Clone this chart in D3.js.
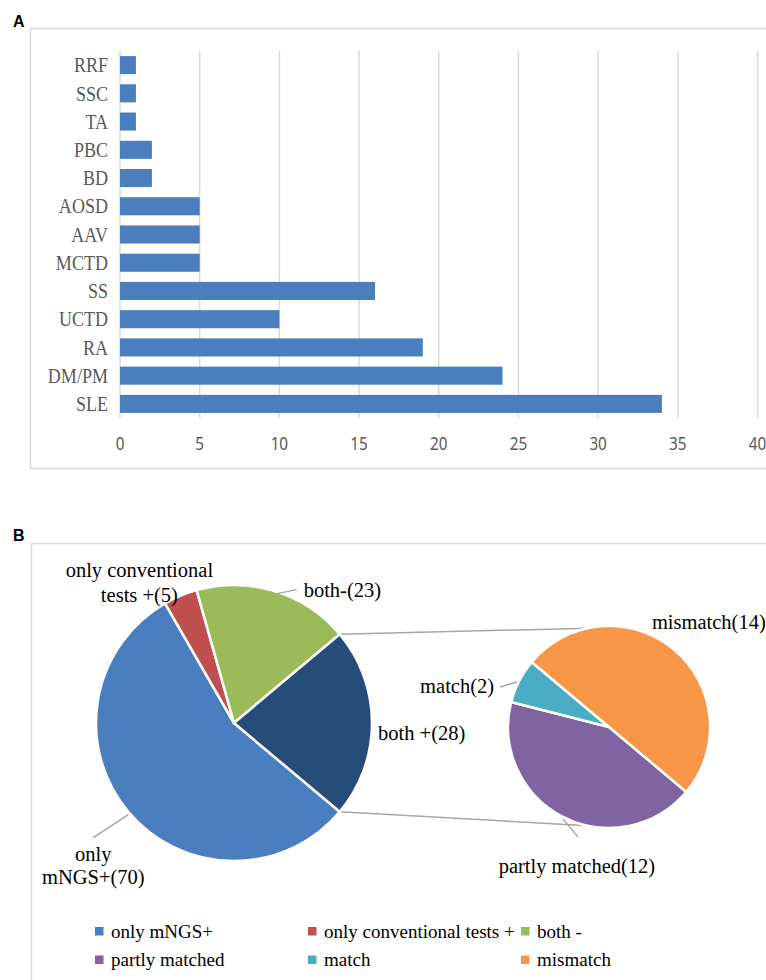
<!DOCTYPE html>
<html>
<head>
<meta charset="utf-8">
<script src="https://cdn.jsdelivr.net/npm/d3@7"></script>
<style>
  html, body { margin: 0; padding: 0; background: #fff; }
  svg { display: block; }
</style>
</head>
<body>
<svg id="chart" width="766" height="980"></svg>
<script>
// Panel A: number of patients per rheumatic disease
const categories = ["RRF", "SSC", "TA", "PBC", "BD", "AOSD", "AAV", "MCTD", "SS", "UCTD", "RA", "DM/PM", "SLE"];
const counts = [1, 1, 1, 2, 2, 5, 5, 5, 16, 10, 19, 24, 34];
const xTicks = [0, 5, 10, 15, 20, 25, 30, 35, 40];

// Panel B: mNGS vs conventional tests, and the breakdown of "both +"
const mainNames = ["only mNGS+", "only conventional tests +", "both -", "both +"];
const mainCounts = [70, 5, 23, 28];
const mainPieText = [["only", "mNGS+"], ["only conventional", "tests +"], ["both-"], ["both +"]];
const mainColors = ["#4a7ebf", "#c0504d", "#9bbb59", "#264c79"];

const subNames = ["partly matched", "match", "mismatch"];
const subCounts = [12, 2, 14];
const subPieText = [["partly matched"], ["match"], ["mismatch"]];
const subColors = ["#8064a2", "#4bacc6", "#f79646"];

const legendOrder = ["only mNGS+", "only conventional tests +", "both -", "partly matched", "match", "mismatch"];

const svg = d3.select("#chart");
const serif = "'Liberation Serif', 'Times New Roman', serif";
const sans = "'Noto Sans', 'DejaVu Sans', sans-serif";
const rad = deg => deg * Math.PI / 180;

/* ---------------- Panel A ---------------- */
svg.append("text").attr("x", 13).attr("y", 27)
  .attr("font-family", "'Liberation Sans', Arial, sans-serif").attr("font-weight", "bold")
  .attr("font-size", 16).attr("fill", "#000").text("A");

svg.append("rect").attr("x", 30.5).attr("y", 28.5).attr("width", 800).attr("height", 440)
  .attr("fill", "none").attr("stroke", "#d9d9d9").attr("stroke-width", 1.5);

const x = d3.scaleLinear().domain([0, 40]).range([120, 757.5]);
const y = d3.scaleBand().domain(categories).range([51, 418]).paddingInner(0.36).paddingOuter(0.18);

const gA = svg.append("g");
gA.selectAll("line.grid").data(xTicks).join("line")
  .attr("class", "grid")
  .attr("x1", d => x(d)).attr("x2", d => x(d))
  .attr("y1", 51).attr("y2", 418)
  .attr("stroke", "#d9d9d9").attr("stroke-width", 1.5);

gA.selectAll("rect.bar").data(categories).join("rect")
  .attr("class", "bar")
  .attr("x", x(0))
  .attr("y", d => y(d))
  .attr("width", (d, i) => x(counts[i]) - x(0))
  .attr("height", y.bandwidth())
  .attr("fill", "#4a7ebf");

gA.selectAll("text.cat").data(categories).join("text")
  .attr("class", "cat")
  .attr("transform", d => `translate(108,${y(d) + y.bandwidth() / 2}) scale(0.95,1.08)`)
  .attr("dy", "0.35em")
  .attr("text-anchor", "end")
  .attr("font-family", serif).attr("font-size", 19).attr("fill", "#595959")
  .text(d => d);

gA.selectAll("text.tick").data(xTicks).join("text")
  .attr("class", "tick")
  .attr("transform", d => `translate(${x(d)},450) scale(0.85,1)`)
  .attr("text-anchor", "middle")
  .attr("font-family", sans).attr("font-size", 18).attr("fill", "#595959")
  .text(d => d);

/* ---------------- Panel B ---------------- */
svg.append("text").attr("x", 13).attr("y", 541)
  .attr("font-family", "'Liberation Sans', Arial, sans-serif").attr("font-weight", "bold")
  .attr("font-size", 16).attr("fill", "#000").text("B");

svg.append("rect").attr("x", 31.5).attr("y", 543.5).attr("width", 800).attr("height", 500)
  .attr("fill", "none").attr("stroke", "#d9d9d9").attr("stroke-width", 1.5);

const start = rad(130);
const pie = d3.pie().sort(null).value(d => d).startAngle(start).endAngle(start + 2 * Math.PI);

const main = { cx: 234, cy: 723, r: 138 };
const sub = { cx: 609, cy: 727, r: 101 };

const edge = (p, a, rr) => [p.cx + (rr || p.r) * Math.sin(a), p.cy - (rr || p.r) * Math.cos(a)];

const mainArcs = pie(mainCounts);
const subArcs = pie(subCounts);

// connector lines between the "both +" slice and the secondary pie
const lineColor = "#a6a6a6";
const connectors = [
  [edge(main, mainArcs[3].startAngle), edge(sub, rad(-12))],
  [edge(main, mainArcs[3].endAngle), edge(sub, rad(192))]
];
svg.append("g").selectAll("line").data(connectors).join("line")
  .attr("x1", d => d[0][0]).attr("y1", d => d[0][1])
  .attr("x2", d => d[1][0]).attr("y2", d => d[1][1])
  .attr("stroke", lineColor).attr("stroke-width", 1.5);

function drawPie(p, arcs, colors) {
  const arc = d3.arc().innerRadius(0).outerRadius(p.r);
  svg.append("g").attr("transform", `translate(${p.cx},${p.cy})`)
    .selectAll("path").data(arcs).join("path")
    .attr("d", arc)
    .attr("fill", (d, i) => colors[i])
    .attr("stroke", "#fff").attr("stroke-width", 2.5).attr("stroke-linejoin", "round");
}
drawPie(main, mainArcs, mainColors);
drawPie(sub, subArcs, subColors);

// label placement relative to the slice's outer edge at its mid-angle
const mainLayout = [
  { dx: -35, dy: 49, anchor: "middle", leader: [[0, 3], [-35, 26]], lh: 23 },
  { dx: -41, dy: -19, anchor: "middle", lh: 25 },
  { dx: 29, dy: 6, anchor: "start", leader: [[0, 3], [22, -1.5]], lh: 23 },
  { dx: 6, dy: 17, anchor: "start", lh: 23 }
];
const subLayout = [
  { dx: 14, dy: 56, anchor: "middle", leader: [[0, 2], [15, 20]], lh: 23 },
  { dx: -25, dy: 12, anchor: "end", leader: [[-2, 1], [-19, 6]], lh: 23 },
  { dx: -22, dy: -21, anchor: "start", lh: 23 }
];

function drawLabels(p, arcs, texts, counts, layout) {
  const g = svg.append("g");
  arcs.forEach((a, i) => {
    const mid = (a.startAngle + a.endAngle) / 2;
    const [ex, ey] = edge(p, mid);
    const L = layout[i];
    if (L.leader) {
      g.append("line")
        .attr("x1", ex + L.leader[0][0]).attr("y1", ey + L.leader[0][1])
        .attr("x2", ex + L.leader[1][0]).attr("y2", ey + L.leader[1][1])
        .attr("stroke", lineColor).attr("stroke-width", 1.5);
    }
    const lines = texts[i].slice();
    lines[lines.length - 1] = lines[lines.length - 1] + "(" + counts[i] + ")";
    const t = g.append("text")
      .attr("x", ex + L.dx).attr("y", ey + L.dy)
      .attr("text-anchor", L.anchor)
      .attr("font-family", serif).attr("font-size", 20.5).attr("fill", "#000");
    lines.forEach((s, k) => {
      t.append("tspan").attr("x", ex + L.dx).attr("dy", k === 0 ? 0 : L.lh).text(s);
    });
  });
}
drawLabels(main, mainArcs, mainPieText, mainCounts, mainLayout);
drawLabels(sub, subArcs, subPieText, subCounts, subLayout);

// legend: three columns, two rows
const colorOf = {};
mainNames.forEach((n, i) => colorOf[n] = mainColors[i]);
subNames.forEach((n, i) => colorOf[n] = subColors[i]);
const colX = [95, 308, 521];
const rowY = [931, 959.5];
const leg = svg.append("g").selectAll("g").data(legendOrder).join("g")
  .attr("transform", (d, i) => `translate(${colX[i % 3]},${rowY[Math.floor(i / 3)]})`);
leg.append("rect").attr("x", 0).attr("y", -4).attr("width", 8.5).attr("height", 8.5)
  .attr("fill", d => colorOf[d]);
leg.append("text").attr("x", 16).attr("y", 6.5)
  .attr("font-family", serif).attr("font-size", 19).attr("fill", "#000")
  .text(d => d);
</script>
</body>
</html>
